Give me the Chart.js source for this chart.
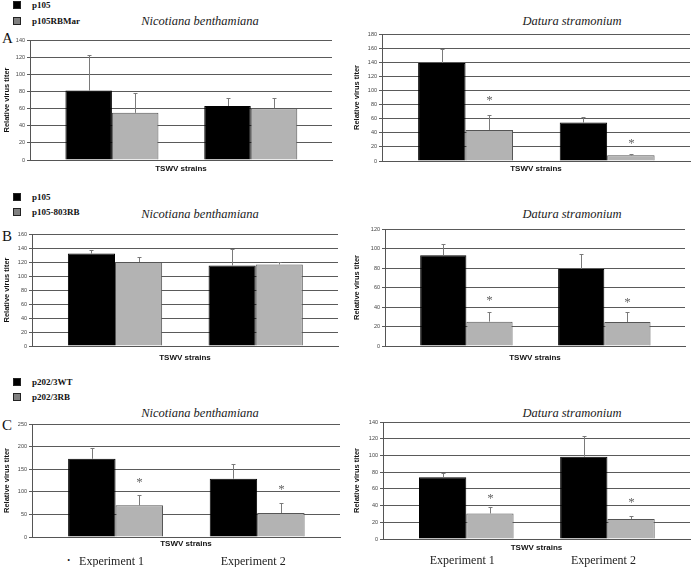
<!DOCTYPE html>
<html>
<head>
<meta charset="utf-8">
<script src="https://cdn.jsdelivr.net/npm/chart.js@4"></script>
<style>
  body { margin: 0; background: #fff; }
  #page { position: relative; width: 691px; height: 567px; overflow: hidden; background: #fff; }
  #page canvas { position: absolute; }
  .txt { position: absolute; white-space: nowrap; font-family: "Liberation Serif", "Times New Roman", serif; color: #111; line-height: 1; transform: translate(0, -50%); }
  .title { font-style: italic; font-size: 12.5px; transform: translate(-50%, -50%); color: #222; }
  .leg { font-weight: bold; font-size: 9px; }
  .letter { font-size: 15px; }
  .sq { position: absolute; width: 6px; height: 6px; border: 1px solid #222; }
</style>
</head>
<body>
<div id="page"></div>
<script>
// 分类
const strains = ['TSWV strain 1', 'TSWV strain 2'];
const experiments = ['Experiment 1', 'Experiment 2'];

// A: p105 / p105RBMar
const aNbP105 = [81, 63];
const aNbP105Err = [41, 9];
const aNbRBMar = [55, 60.5];
const aNbRBMarErr = [23, 11.5];
const aNbTicks = [0, 20, 40, 60, 80, 100, 120, 140];

const aDsP105 = [139, 54.5];
const aDsP105Err = [20, 7.5];
const aDsRBMar = [44, 8];
const aDsRBMarErr = [21, 2];
const aDsStars = [90, 29];
const aDsTicks = [0, 20, 40, 60, 80, 100, 120, 140, 160, 180];

// B: p105 / p105-803RB
const bNbP105 = [132, 115];
const bNbP105Err = [4.5, 23.5];
const bNb803RB = [120, 116.5];
const bNb803RBErr = [7, 3];
const bNbTicks = [0, 20, 40, 60, 80, 100, 120, 140, 160];

const bDsP105 = [93, 79];
const bDsP105Err = [12, 15];
const bDs803RB = [25, 24.5];
const bDs803RBErr = [10, 10];
const bDsStars = [49, 47];
const bDsTicks = [0, 20, 40, 60, 80, 100, 120];

// C: p202/3WT / p202/3RB
const cNbWT = [173, 129];
const cNbWTErr = [25, 32];
const cNbRB = [70, 53];
const cNbRBErr = [24, 23];
const cNbStars = [126, 111];
const cNbTicks = [0, 50, 100, 150, 200, 250];

const cDsWT = [74, 98.5];
const cDsWTErr = [5.5, 24.5];
const cDsRB = [30.5, 24];
const cDsRBErr = [7.5, 3.5];
const cDsStars = [52, 47];
const cDsTicks = [0, 20, 40, 60, 80, 100, 120, 140];

const BLACK = '#000000';
const GREY = '#b3b3b3';
const page = document.getElementById('page');

// 误差线 + 星号 + 实验标签
const errorBarPlugin = {
    id: 'errorBars',
    afterDatasetsDraw(chart, args, opts) {
        const ctx = chart.ctx;
        const yScale = chart.scales.y;
        chart.data.datasets.forEach((ds, di) => {
            const meta = chart.getDatasetMeta(di);
            meta.data.forEach((bar, i) => {
                const v = ds.data[i].y;
                const x = Math.round(bar.x) + 0.5;
                if (ds.errors) {
                    const top = Math.round(yScale.getPixelForValue(v + ds.errors[i])) + 0.5;
                    ctx.save();
                    ctx.strokeStyle = '#7a7a7a';
                    ctx.lineWidth = 1;
                    ctx.beginPath();
                    ctx.moveTo(x, bar.y);
                    ctx.lineTo(x, top);
                    ctx.moveTo(x - 2, top);
                    ctx.lineTo(x + 2, top);
                    ctx.stroke();
                    ctx.restore();
                }
                if (ds.stars && ds.stars[i] != null) {
                    ctx.save();
                    ctx.fillStyle = '#666';
                    ctx.font = '13px "Liberation Serif"';
                    ctx.textAlign = 'center';
                    ctx.textBaseline = 'alphabetic';
                    ctx.fillText('*', x, yScale.getPixelForValue(ds.stars[i]) + 6);
                    ctx.restore();
                }
            });
        });
    },
    afterDraw(chart, args, opts) {
        if (!opts.labels) return;
        const ctx = chart.ctx;
        ctx.save();
        ctx.fillStyle = '#222';
        ctx.font = '12px "Liberation Serif"';
        ctx.textAlign = 'center';
        ctx.textBaseline = 'middle';
        opts.labels.forEach((lab, i) => {
            ctx.fillText(lab, chart.scales.x.getPixelForValue(i + 1) - 4, opts.labelY);
        });
        ctx.restore();
    }
};

function makePanel(p) {
    const cv = document.createElement('canvas');
    cv.width = p.box.w;
    cv.height = p.box.h;
    cv.style.left = p.box.x + 'px';
    cv.style.top = p.box.y + 'px';
    page.appendChild(cv);

    const yW = p.area.L - p.box.x;
    const xH = p.box.y + p.box.h - p.area.B;
    const datasets = p.series.map(s => ({
        label: s.label,
        data: p.cats.map((c, i) => ({ x: i + 1, y: s.values[i] })),
        errors: s.errors,
        stars: s.stars,
        backgroundColor: s.color,
        borderColor: s.border,
        borderWidth: 1,
        categoryPercentage: 0.67,
        barPercentage: 1
    }));

    new Chart(cv, {
        type: 'bar',
        data: { datasets },
        options: {
            responsive: false,
            animation: false,
            layout: { padding: { top: p.area.T - p.box.y, left: 0, right: p.box.x + p.box.w - p.area.R, bottom: 0 } },
            plugins: {
                legend: { display: false },
                tooltip: { enabled: false },
                errorBars: p.catLabels ? { labels: p.cats, labelY: p.catLabelY - p.box.y } : {}
            },
            scales: {
                x: {
                    type: 'linear',
                    min: 0.41,
                    max: 2.585,
                    offset: false,
                    afterBuildTicks(s) { s.ticks = p.cats.map((c, i) => ({ value: i + 1 })); },
                    ticks: { display: false },
                    grid: { display: false, drawTicks: false },
                    border: { color: '#555' },
                    title: {
                        display: true, text: 'TSWV strains', color: '#111',
                        font: { family: '"Liberation Sans", Arial', weight: 'bold', size: 8 },
                        padding: { top: 0, bottom: p.box.y + p.box.h - p.xTitleY - 4.8 }
                    },
                    afterFit(s) { s.height = xH; }
                },
                y: {
                    min: p.ticks[0],
                    max: p.ticks[p.ticks.length - 1],
                    ticks: {
                        stepSize: p.ticks[1] - p.ticks[0],
                        color: '#444', padding: 2,
                        font: { family: '"Liberation Sans", Arial', size: 5.5 }
                    },
                    grid: { color: '#5a5a5a', lineWidth: 1, tickLength: 3 },
                    border: { color: '#555' },
                    title: {
                        display: true, text: 'Relative virus titer', color: '#111',
                        font: { family: '"Liberation Sans", Arial', weight: 'bold', size: 7.5 },
                        padding: { top: p.yTitleX - p.box.x - 4.5, bottom: 0 }
                    },
                    afterFit(s) { s.width = yW; }
                }
            }
        },
        plugins: [errorBarPlugin]
    });
}

function addText(cls, text, x, y) {
    const d = document.createElement('div');
    d.className = 'txt ' + cls;
    d.textContent = text;
    d.style.left = x + 'px';
    d.style.top = y + 'px';
    page.appendChild(d);
}

function addLegend(names, y1, y2) {
    [[names[0], y1, BLACK], [names[1], y2, '#808080']].forEach(([n, y, c]) => {
        const sq = document.createElement('div');
        sq.className = 'sq';
        sq.style.left = '13px';
        sq.style.top = (y - 4) + 'px';
        sq.style.background = c;
        page.appendChild(sq);
        addText('leg', n, 32, y);
    });
}

// A
addLegend(['p105', 'p105RBMar'], 5, 21);
addText('letter', 'A', 2, 38);
addText('title', 'Nicotiana benthamiana', 200, 21);
addText('title', 'Datura stramonium', 572, 21);
makePanel({
    box: { x: 0, y: 28, w: 345, h: 152 }, area: { L: 30, T: 40, R: 332, B: 160 },
    yTitleX: 7, xTitleY: 169, cats: strains, ticks: aNbTicks,
    series: [
        { label: 'p105', values: aNbP105, errors: aNbP105Err, color: BLACK, border: BLACK },
        { label: 'p105RBMar', values: aNbRBMar, errors: aNbRBMarErr, color: GREY, border: '#555' }
    ]
});
makePanel({
    box: { x: 345, y: 28, w: 346, h: 152 }, area: { L: 382, T: 34, R: 690, B: 161 },
    yTitleX: 357, xTitleY: 169, cats: strains, ticks: aDsTicks,
    series: [
        { label: 'p105', values: aDsP105, errors: aDsP105Err, color: BLACK, border: BLACK },
        { label: 'p105RBMar', values: aDsRBMar, errors: aDsRBMarErr, stars: aDsStars, color: GREY, border: '#555' }
    ]
});

// B
addLegend(['p105', 'p105-803RB'], 197, 212);
addText('letter', 'B', 2, 236);
addText('title', 'Nicotiana benthamiana', 200, 214);
addText('title', 'Datura stramonium', 572, 214);
makePanel({
    box: { x: 0, y: 222, w: 345, h: 146 }, area: { L: 32, T: 234, R: 338, B: 346 },
    yTitleX: 7, xTitleY: 358, cats: strains, ticks: bNbTicks,
    series: [
        { label: 'p105', values: bNbP105, errors: bNbP105Err, color: BLACK, border: BLACK },
        { label: 'p105-803RB', values: bNb803RB, errors: bNb803RBErr, color: GREY, border: '#555' }
    ]
});
makePanel({
    box: { x: 345, y: 222, w: 346, h: 146 }, area: { L: 385, T: 229, R: 685, B: 346 },
    yTitleX: 357, xTitleY: 358, cats: strains, ticks: bDsTicks,
    series: [
        { label: 'p105', values: bDsP105, errors: bDsP105Err, color: BLACK, border: BLACK },
        { label: 'p105-803RB', values: bDs803RB, errors: bDs803RBErr, stars: bDsStars, color: GREY, border: '#555' }
    ]
});

// C
addLegend(['p202/3WT', 'p202/3RB'], 382, 397);
addText('letter', 'C', 2, 425);
addText('title', 'Nicotiana benthamiana', 200, 413);
addText('title', 'Datura stramonium', 572, 413);
addText('', '\u00b7', 66, 561);
makePanel({
    box: { x: 0, y: 415, w: 345, h: 152 }, area: { L: 32, T: 424, R: 340, B: 537 },
    yTitleX: 7, xTitleY: 544, cats: experiments, ticks: cNbTicks, catLabels: true, catLabelY: 562,
    series: [
        { label: 'p202/3WT', values: cNbWT, errors: cNbWTErr, color: BLACK, border: BLACK },
        { label: 'p202/3RB', values: cNbRB, errors: cNbRBErr, stars: cNbStars, color: GREY, border: '#555' }
    ]
});
makePanel({
    box: { x: 345, y: 415, w: 346, h: 152 }, area: { L: 383, T: 422, R: 690, B: 539 },
    yTitleX: 357, xTitleY: 548, cats: experiments, ticks: cDsTicks, catLabels: true, catLabelY: 561,
    series: [
        { label: 'p202/3WT', values: cDsWT, errors: cDsWTErr, color: BLACK, border: BLACK },
        { label: 'p202/3RB', values: cDsRB, errors: cDsRBErr, stars: cDsStars, color: GREY, border: '#555' }
    ]
});
</script>
</body>
</html>
